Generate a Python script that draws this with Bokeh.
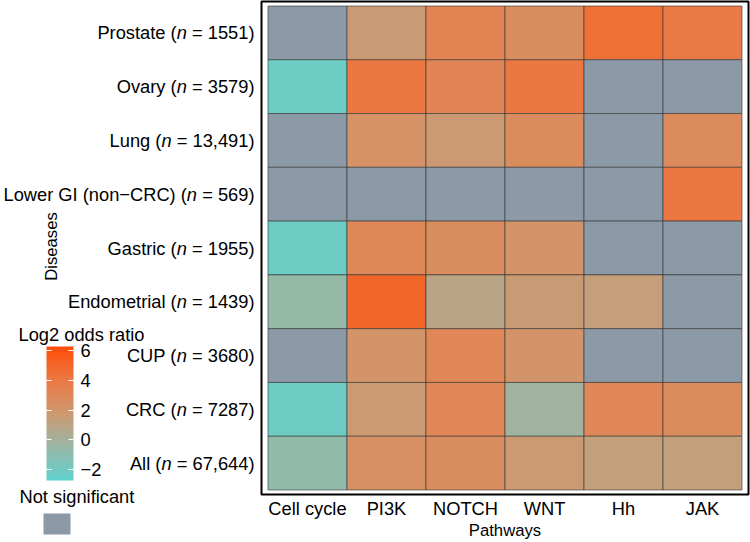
import math
from bokeh.plotting import figure
from bokeh.layouts import row
from bokeh.models import (ColumnDataSource, LinearColorMapper, ColorBar, FixedTicker,
                          FactorRange, Range1d)
from bokeh.core.properties import value
from bokeh.embed import file_html
from bokeh.resources import INLINE

# ---------------- data ----------------
diseases = ["Prostate", "Ovary", "Lung", "Lower GI (non\u2212CRC)", "Gastric",
            "Endometrial", "CUP", "CRC", "All"]
n_patients = ["1551", "3579", "13,491", "569", "1955", "1439", "3680", "7287", "67,644"]
pathways = ["Cell cycle", "PI3K", "NOTCH", "WNT", "Hh", "JAK"]
NS = None  # not significant
# log2 odds ratio per pathway, in the order of `diseases`
cell_cycle = [NS, -2.2, NS, NS, -2.2, -0.6, NS, -2.2, -0.7]
pi3k       = [1.6, 4.1, 2.2, NS, 3.0, 5.0, 2.1, 1.7, 2.4]
notch      = [3.3, 3.2, 1.7, NS, 2.6, 0.9, 3.1, 3.1, 2.6]
wnt        = [2.6, 4.1, 2.7, NS, 2.1, 1.6, 2.1, -0.2, 1.7]
hh         = [4.5, NS, NS, NS, NS, 1.4, NS, 3.1, 1.3]
jak        = [4.0, NS, 2.8, 4.1, NS, NS, NS, 2.7, 1.3]
colorbar_ticks = [-2, 0, 2, 4, 6]
scale_low, scale_high = -2.75, 6.3

# ---------------- styles ----------------
FONT = "Liberation Sans"
FS_PX = 18.3
FS = "%.1fpx" % FS_PX
TITLE_FS = "16.7px"
NS_COLOR = "#8c99a6"
anchor_vals = [-2.75, -2.0, 0.0, 2.0, 4.0, 6.3]
anchor_cols = ["#60d3cd", "#72c9c1", "#a5b19c", "#d2966b", "#ea7a45", "#ff4d08"]


def hex2rgb(h):
    return tuple(int(h[i:i + 2], 16) for i in (1, 3, 5))


def build_palette(n=256):
    out = []
    for k in range(n):
        v = scale_low + (scale_high - scale_low) * k / (n - 1)
        for j in range(len(anchor_vals) - 1):
            if anchor_vals[j] <= v <= anchor_vals[j + 1] + 1e-9:
                t = (v - anchor_vals[j]) / (anchor_vals[j + 1] - anchor_vals[j])
                a, b = hex2rgb(anchor_cols[j]), hex2rgb(anchor_cols[j + 1])
                c = [round(a[i] + (b[i] - a[i]) * t) for i in range(3)]
                out.append("#%02x%02x%02x" % tuple(c))
                break
    return out


# Arial / Liberation Sans advance widths (1/1000 em)
NBSP = "\u00a0"
ARIAL_W = {" ": 278, NBSP: 278, "=": 584, ",": 278, ")": 333, "n": 556}
for d in "0123456789":
    ARIAL_W[d] = 556


def text_w(s):
    return sum(ARIAL_W[c] for c in s) * FS_PX / 1000.0


# ---------------- table ----------------
series = [cell_cycle, pi3k, notch, wnt, hh, jak]
xs, ys, vals = [], [], []
for pw, col in zip(pathways, series):
    for d, v in zip(diseases, col):
        xs.append(pw)
        ys.append(d)
        vals.append(float("nan") if v is None else v)
src = ColumnDataSource(dict(pathway=xs, disease=ys, value=vals))

mapper = LinearColorMapper(palette=build_palette(), low=scale_low, high=scale_high,
                           nan_color=NS_COLOR)

# ---------------- geometry ----------------
H = 542
WL = 259            # left panel (labels + legends)
WH = 750 - WL       # heatmap panel
BL, BR, BT, BB = 2, 2, 1, 46
frame_h = H - BT - BB
frame_bottom = BT + frame_h
PAD_X, PAD_Y = 0.082, 0.0833      # per side, in category units
n_rows = len(diseases)
row_h = frame_h / (n_rows + 2 * PAD_Y)

y_range = FactorRange(factors=list(reversed(diseases)), range_padding=PAD_Y,
                      range_padding_units="absolute")

# ---------------- heatmap ----------------
p = figure(width=WH, height=H,
           x_range=FactorRange(factors=pathways, range_padding=PAD_X,
                               range_padding_units="absolute"),
           y_range=y_range,
           y_axis_location=None, output_backend="svg", toolbar_location=None,
           min_border_left=BL, min_border_right=BR, min_border_top=BT,
           min_border_bottom=BB)
p.background_fill_color = "white"
p.border_fill_color = "white"
p.outline_line_color = "black"
p.outline_line_width = 2
p.grid.grid_line_color = None

p.rect(x="pathway", y="disease", width=1, height=1, source=src,
       fill_color={"field": "value", "transform": mapper},
       line_color="#333333", line_alpha=0.6, line_width=1)

xa = p.xaxis[0]
xa.axis_line_color = None
xa.major_tick_line_color = None
xa.minor_tick_line_color = None
xa.major_tick_out = 0
xa.major_tick_in = 0
xa.major_label_standoff = 3
xa.major_label_text_font = FONT
xa.major_label_text_font_size = FS
xa.major_label_text_color = "black"
xa.axis_label = "Pathways"
xa.axis_label_standoff = -1
xa.axis_label_text_font = FONT
xa.axis_label_text_font_size = TITLE_FS
xa.axis_label_text_font_style = "normal"
xa.axis_label_text_color = "black"

# ---------------- left panel (shares the disease scale) ----------------


def syn(y_px):
    """canvas pixel row (from top) -> synthetic coordinate on the disease scale"""
    return -PAD_Y + (frame_bottom - y_px) / row_h


lp = figure(width=WL, height=H, x_range=Range1d(0, WL), y_range=y_range,
            x_axis_location=None, y_axis_location=None, output_backend="svg",
            toolbar_location=None, min_border_left=0, min_border_right=0,
            min_border_top=BT, min_border_bottom=BB)
lp.outline_line_color = None
lp.grid.grid_line_color = None
lp.background_fill_color = "white"
lp.border_fill_color = "white"

LAB_X = 254
suffixes = [NBSP + "=" + NBSP + n + ")" for n in n_patients]
lab_src = ColumnDataSource(dict(
    y=diseases,
    prefix=[d + " (" for d in diseases],
    nn=["n"] * n_rows,
    suffix=suffixes,
    off_n=[-text_w(s) for s in suffixes],
    off_pre=[-text_w(s) - text_w("n") for s in suffixes],
))
common = dict(x=LAB_X, y="y", source=lab_src, text_align="right",
              text_baseline="middle", text_font=value(FONT), text_font_size=FS,
              text_color="black")
lp.text(text="suffix", **common)
lp.text(text="nn", x_offset="off_n", text_font_style="italic", **common)
lp.text(text="prefix", x_offset="off_pre", **common)

# axis title of the disease axis, placed as in the original
lp.text(x=[51], y=[syn(247)], text=["Diseases"], angle=math.pi / 2,
        text_align="center", text_baseline="middle", text_font=value(FONT),
        text_font_size=TITLE_FS, text_color="black")

# colour-bar legend
lp.text(x=[18], y=[syn(335)], text=["Log2 odds ratio"],
        text_align="left", text_baseline="middle", text_font=value(FONT),
        text_font_size=FS, text_color="black")
cb = ColorBar(color_mapper=mapper, ticker=FixedTicker(ticks=colorbar_ticks),
              width=27, height=134, location=(46, frame_bottom - 482),
              padding=0, margin=0, title=None,
              major_label_text_font=FONT, major_label_text_font_size=FS,
              major_label_text_color="black",
              major_label_overrides={-2: "\u22122"},
              major_tick_line_color="white", major_tick_in=27, major_tick_out=0,
              major_tick_line_dash="5 17", major_tick_line_width=1,
              minor_tick_line_color=None, label_standoff=7,
              bar_line_color=None, border_line_color=None,
              background_fill_alpha=0)
lp.add_layout(cb, "center")

# "Not significant" key (title and grey key)
ns_mapper = LinearColorMapper(palette=[NS_COLOR], low=0, high=1)
ns_title = ColorBar(color_mapper=ns_mapper, ticker=FixedTicker(ticks=[]),
                    orientation="horizontal",
                    width=27, height=2, location=(19, frame_bottom - 510.5),
                    padding=0, margin=0, title="Not significant", title_standoff=0,
                    title_text_font=FONT, title_text_font_size=FS,
                    title_text_font_style="normal", title_text_color="black",
                    scale_alpha=0, major_label_text_alpha=0,
                    major_tick_line_color=None, minor_tick_line_color=None,
                    bar_line_color=None, border_line_color=None,
                    background_fill_alpha=0)
lp.add_layout(ns_title, "center")
ns_key = ColorBar(color_mapper=ns_mapper, ticker=FixedTicker(ticks=[]),
                  orientation="horizontal",
                  width=27, height=21, location=(43, frame_bottom - 536),
                  padding=0, margin=0, title=None,
                  major_label_text_alpha=0,
                  major_tick_line_color=None, minor_tick_line_color=None,
                  bar_line_color=None, border_line_color=None,
                  background_fill_alpha=0)
lp.add_layout(ns_key, "center")

layout = row(lp, p)
open("out.html", "w").write(file_html(layout, INLINE))
